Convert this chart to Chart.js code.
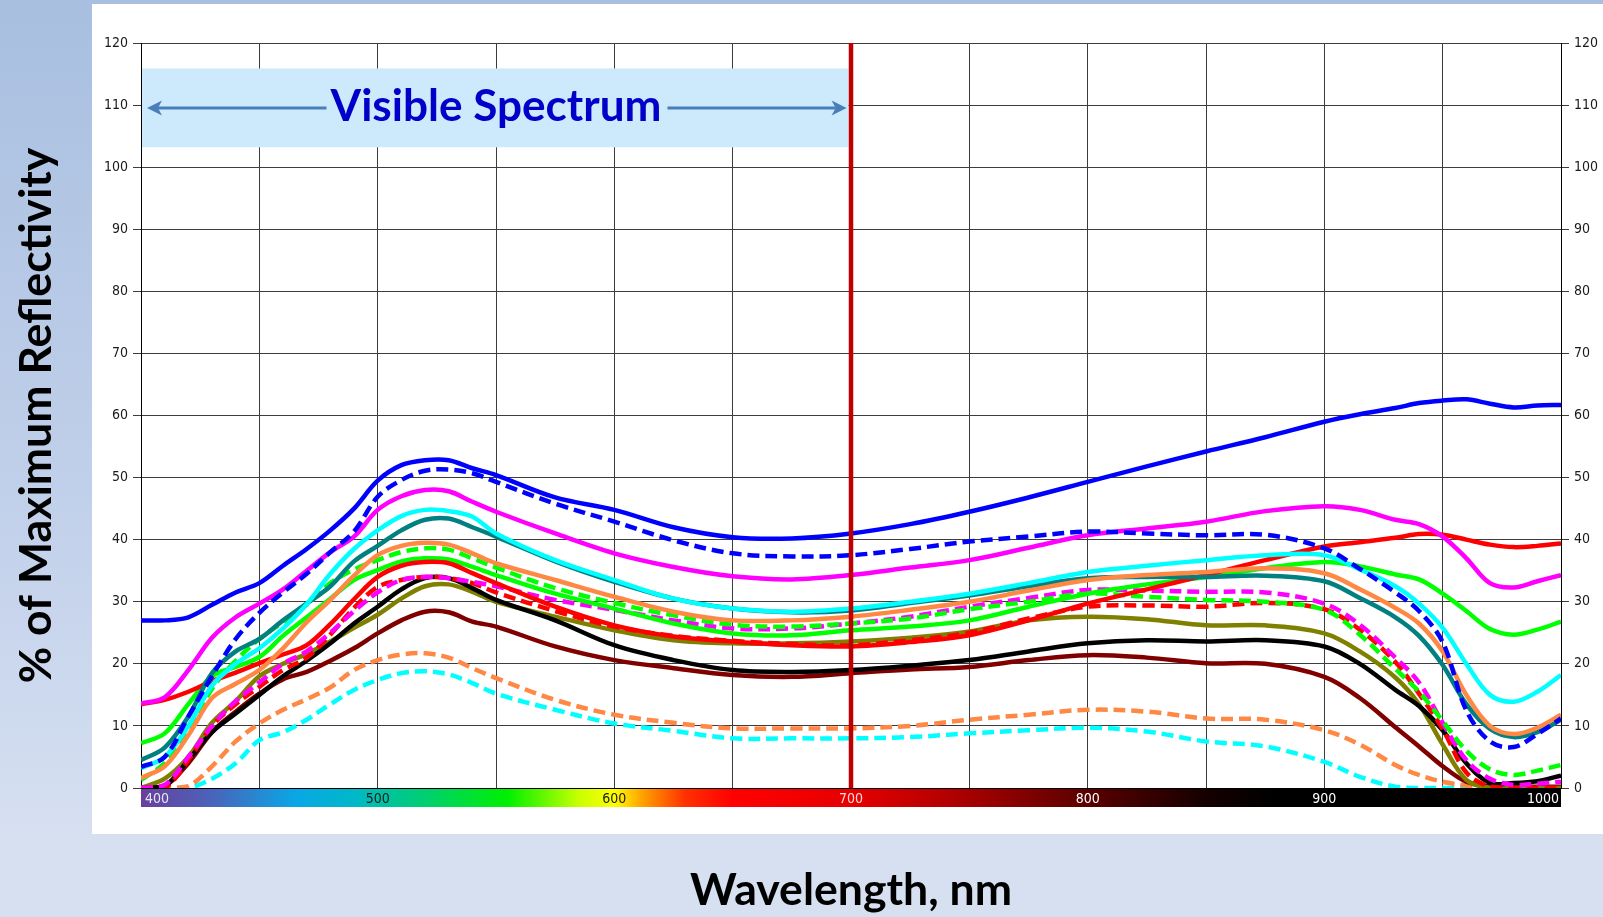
<!DOCTYPE html>
<html>
<head>
<meta charset="utf-8">
<title>Reflectivity vs wavelength</title>
<script src="https://cdn.jsdelivr.net/npm/chart.js@4.4.1/dist/chart.umd.min.js"></script>
<style>
  html, body { margin: 0; padding: 0; }
  body {
    width: 1603px; height: 917px; overflow: hidden; position: relative;
    background: linear-gradient(to bottom, #a8bfe0 0%, #c4d2eb 60%, #d6e0f1 92%, #d6e0f1 100%);
  }
  #panel { position: absolute; left: 92px; top: 4px; width: 1511px; height: 830px; background: #fff; }
  #wrap { position: absolute; left: 0; top: 0; width: 1603px; height: 917px; }
</style>
</head>
<body>
<div id="panel"></div>
<div id="wrap"><canvas id="chartCanvas" width="1603" height="917"></canvas></div>
<script>
/* ===========================
   DATA
=========================== */
const wavelengths = [400, 410, 420, 430, 440, 450, 460, 470, 480, 490, 500, 510, 520, 530, 540, 550,
  575, 600, 625, 650, 675, 700, 725, 750, 775, 800, 825, 850, 875, 900,
  915, 930, 940, 950, 960, 970, 980, 990, 1000];

const blueSolid = [27, 27, 27.5, 29.5, 31.5, 33, 35.8, 38.5, 41.5, 45, 49.5, 52, 52.8, 52.8, 51.5, 50.4,
  46.8, 44.8, 42, 40.4, 40.2, 41, 42.5, 44.5, 46.8, 49.3, 51.8, 54.2, 56.5, 59,
  60.2, 61.2, 62, 62.4, 62.6, 61.9, 61.3, 61.6, 61.7];
const blueDashed = [3.4, 5, 11.5, 18, 24, 28.2, 31.5, 34.5, 38, 41.3, 46.9, 49.6, 51.1, 51.3, 50.7, 49.3,
  45.8, 42.9, 39.9, 37.8, 37.3, 37.5, 38.5, 39.7, 40.5, 41.3, 41, 40.7, 40.8, 38.6,
  35.3, 31.5, 28.5, 23.5, 12.5, 7.5, 6.6, 8.7, 11.2];
const magentaSolid = [13.6, 14.6, 19, 24.2, 27.5, 29.7, 32, 35, 38, 40.5, 44.8, 47, 48, 47.8, 46.1, 44.5,
  41, 37.8, 35.6, 34.1, 33.6, 34.3, 35.5, 36.7, 38.7, 40.7, 41.8, 42.9, 44.6, 45.4,
  44.8, 43.2, 42.5, 40.5, 37, 33, 32.3, 33.3, 34.3];
const cyanSolid = [3.2, 5, 10, 16.5, 20, 22.5, 25.7, 29.6, 34.5, 38.5, 41.5, 43.8, 44.8, 44.6, 43.7, 41,
  36.7, 33.5, 30.5, 28.9, 28.4, 28.9, 30, 31.3, 33, 34.8, 35.8, 36.7, 37.5, 37.5,
  35.2, 32.5, 29.7, 25.8, 20, 15, 13.9, 15.5, 18.2];
const tealSolid = [4.5, 6.5, 11.5, 18.5, 22, 24, 27, 29.7, 32.5, 36.5, 39, 41.5, 43.2, 43.4, 42, 40.5,
  36.5, 33.2, 30.5, 28.9, 28.3, 28.6, 29.8, 31, 32.5, 33.8, 34, 34, 34.2, 33.3,
  30.6, 27.5, 24.5, 19.8, 13.5, 9.5, 8.2, 9, 11];
const orangeSolid = [1.6, 3.5, 8.5, 14.5, 16.8, 19, 22.5, 26.7, 30.3, 34.2, 37.5, 39, 39.5, 39.2, 37.8, 36.2,
  33.5, 30.8, 28.4, 27, 27, 27.6, 28.7, 30, 31.8, 33.5, 34.3, 34.8, 35.4, 34.6,
  32, 29, 26.5, 22, 15, 10, 8.7, 9.7, 11.8];
const greenSolid = [7.2, 8.8, 13.5, 18, 19.5, 21.1, 24.5, 27.5, 30.5, 33.5, 35.1, 36.5, 37, 36.8, 35.6, 34.3,
  31.3, 28.9, 26.5, 24.9, 24.6, 25.4, 26, 27, 29.2, 31.3, 32.8, 34, 35.4, 36.4,
  35.7, 34.4, 33.6, 31.3, 28.5, 25.6, 24.7, 25.5, 26.8];
const greenDashed = [1.3, 4, 9, 16, 20.5, 24, 26.7, 29.5, 33, 35.2, 36.7, 38, 38.6, 38.4, 37, 35.5,
  32.2, 29.8, 27.8, 26.3, 26, 26.5, 27.3, 28.8, 30, 31.3, 30.8, 30.3, 30, 28.7,
  24.7, 19.2, 15.5, 10.8, 6, 3, 2.1, 2.8, 3.7];
const redSolid = [13.5, 14.2, 15.5, 17.2, 18.6, 20.1, 21.5, 23, 26.4, 30.4, 34, 35.8, 36.4, 36.2, 34.6, 33,
  29.2, 26.2, 24.4, 23.6, 23, 22.8, 23.5, 24.6, 27, 29.7, 32, 34.3, 36.7, 38.9,
  39.6, 40.3, 40.9, 40.8, 40, 39.2, 38.8, 39, 39.4];
const redDashed = [0, 0, 4.5, 10, 13.5, 16.3, 19, 21, 24.7, 29, 32.4, 33.5, 34, 33.8, 33, 31.5,
  28.5, 26, 24.5, 23.7, 23.2, 23, 23.8, 25, 27.3, 29.2, 29.4, 29.2, 29.8, 28.8,
  25.5, 20.3, 15.2, 9.5, 2.5, 0.2, 0, 0, 0];
const magentaDashed = [0, 0.5, 5, 10, 14, 17, 20, 22, 25, 28.5, 31.5, 33.5, 34, 33.8, 33.2, 32.5,
  30.3, 28.7, 27, 25.7, 25.7, 26.5, 27.6, 29.2, 30.6, 31.9, 31.8, 31.6, 31.5, 29.7,
  26.3, 21, 17, 10.5, 4.5, 1.5, 0.5, 0.7, 1];
const blackSolid = [0, 0.3, 4.5, 9, 12, 15, 18, 20.5, 23.3, 26.5, 29.2, 32, 33.8, 33.8, 32.2, 30.3,
  27, 23, 20.6, 19, 18.7, 19, 19.7, 20.6, 22, 23.3, 23.8, 23.6, 23.8, 22.8,
  20, 15.8, 13.2, 9.3, 4, 0.8, 0.8, 1.1, 2];
const oliveSolid = [0, 1.5, 5, 10.5, 14, 18, 20, 21.6, 23.6, 25.8, 27.9, 30.5, 32.5, 32.8, 31.6, 30,
  27.6, 25.4, 23.8, 23.3, 23.3, 23.6, 24.2, 25.2, 27, 27.6, 27.2, 26.2, 26.2, 24.9,
  22, 17.8, 13.5, 7, 1.3, 0, 0, 0, 0];
const darkRedSolid = [0, 0.3, 4, 9, 12.3, 15.2, 17.5, 18.7, 20.5, 22.5, 24.9, 27, 28.4, 28.3, 26.8, 26,
  22.8, 20.6, 19.3, 18.2, 17.9, 18.5, 19.1, 19.5, 20.6, 21.4, 21, 20.1, 20, 17.9,
  14.5, 9.8, 6.7, 3.5, 1, 0.3, 0.2, 0.2, 0.2];
const orangeDashed = [0, 0, 0.3, 3.5, 7.5, 10.4, 12.6, 14.3, 16.2, 19, 20.6, 21.5, 21.7, 21, 19.3, 17.7,
  14.2, 11.8, 10.5, 9.6, 9.6, 9.6, 10, 11, 11.8, 12.6, 12.3, 11.2, 11, 9.3,
  7, 3.7, 2.1, 1, 0.4, 0, 0, 0, 0];
const cyanDashed = [0, 0, 0, 1.5, 4, 7.7, 9, 11, 13.5, 15.8, 17.4, 18.5, 18.8, 18.3, 16.9, 15.2,
  12.6, 10.4, 9.2, 8, 8, 8, 8.2, 8.8, 9.3, 9.7, 9.1, 7.5, 6.7, 4.2,
  1.8, 0.2, 0, 0, 0, 0, 0, 0, 0];

const yTicks = [0, 10, 20, 30, 40, 50, 60, 70, 80, 90, 100, 110, 120];
const xTickLabels = [400, 500, 600, 700, 800, 900, 1000];

// annotations, in data units
const visibleBand = [400, 699];      // nm
const visibleBoxY = [103.2, 115.9];  // % units
const visibleLabelAt = [550, 110];
const cutoffWavelength = 700;

/* ===========================
   STYLES
=========================== */
const tickFont = "'DejaVu Sans Condensed', 'DejaVu Sans', sans-serif";
const titleFamily = "Lato, 'Open Sans', sans-serif";
const gridColor = "#3c3c3c";

// spectrum colour bar under the x axis
const spectrumStops = [
  [400, "#6a3f9c"], [430, "#4a63bb"], [465, "#0aa6e6"], [490, "#00b8c8"],
  [520, "#00cf70"], [555, "#00f000"], [585, "#c8ff00"], [600, "#ffff00"],
  [612, "#ffa000"], [630, "#ff3000"], [650, "#ff0000"], [700, "#e60000"],
  [740, "#b40000"], [800, "#5a0000"], [850, "#150000"], [880, "#000000"], [1000, "#000000"]
];
const bandLabelColors = ["#e6e6f0", "#1a1a1a", "#1a1a1a", "#ffd6d6", "#ffffff", "#ffffff", "#ffffff"];

// 16 series: first listed is drawn on top
const series = [
  { data: blueSolid,     color: "#0000ff", dashed: false },
  { data: blueDashed,    color: "#0000ff", dashed: true },
  { data: magentaSolid,  color: "#ff00ff", dashed: false },
  { data: orangeSolid,   color: "#ff8844", dashed: false },
  { data: cyanSolid,     color: "#00ffff", dashed: false },
  { data: tealSolid,     color: "#008080", dashed: false },
  { data: redSolid,      color: "#ff0000", dashed: false },
  { data: greenSolid,    color: "#00ff00", dashed: false },
  { data: greenDashed,   color: "#00ff00", dashed: true },
  { data: magentaDashed, color: "#ff00ff", dashed: true },
  { data: redDashed,     color: "#ff0000", dashed: true },
  { data: blackSolid,    color: "#000000", dashed: false },
  { data: oliveSolid,    color: "#808000", dashed: false },
  { data: darkRedSolid,  color: "#800000", dashed: false },
  { data: orangeDashed,  color: "#ff8844", dashed: true },
  { data: cyanDashed,    color: "#00ffff", dashed: true }
];

// fit a bold title font so the text spans a target width
function fitFontSize(text, family, targetWidth) {
  const c = document.createElement("canvas").getContext("2d");
  c.font = "bold 100px " + family;
  return Math.round(1000 * targetWidth / c.measureText(text).width) / 10;
}
const yTitleSize = fitFontSize("% of Maximum Reflectivity", titleFamily, 536);
const xTitleSize = fitFontSize("Wavelength, nm", titleFamily, 322);
const bandTitleSize = fitFontSize("Visible Spectrum", titleFamily, 331);

function drawArrow(ctx, fromX, toX, y) {
  const dir = Math.sign(toX - fromX);
  const head = 15, half = 7.5, notch = 4;
  ctx.beginPath();
  ctx.moveTo(fromX, y);
  ctx.lineTo(toX - dir * (head - notch), y);
  ctx.stroke();
  ctx.beginPath();
  ctx.moveTo(toX, y);
  ctx.lineTo(toX - dir * head, y - half);
  ctx.lineTo(toX - dir * (head - notch), y);
  ctx.lineTo(toX - dir * head, y + half);
  ctx.closePath();
  ctx.fill();
}

/* ===========================
   OVERLAY PLUGIN
=========================== */
const overlayPlugin = {
  id: "overlay",
  beforeDatasetsDraw(chart) {
    const { ctx, scales: { x, y } } = chart;
    const left = x.getPixelForValue(visibleBand[0]);
    const right = x.getPixelForValue(visibleBand[1]);
    const top = y.getPixelForValue(visibleBoxY[1]);
    const bottom = y.getPixelForValue(visibleBoxY[0]);
    ctx.save();
    ctx.fillStyle = "#cceafb";
    ctx.fillRect(left + 1, top, right - left - 1, bottom - top);

    const cx = x.getPixelForValue(visibleLabelAt[0]);
    const cy = y.getPixelForValue(visibleLabelAt[1]);
    ctx.font = "bold " + bandTitleSize + "px " + titleFamily;
    ctx.fillStyle = "#0000c8";
    ctx.textAlign = "center";
    ctx.textBaseline = "middle";
    ctx.fillText("Visible Spectrum", cx, cy + 2);
    const tw = ctx.measureText("Visible Spectrum").width;

    ctx.strokeStyle = "#4a7ebb";
    ctx.fillStyle = "#4a7ebb";
    ctx.lineWidth = 3;
    drawArrow(ctx, cx - tw / 2 - 4, left + 6, cy + 3);
    drawArrow(ctx, cx + tw / 2 + 6, right - 2, cy + 3);
    ctx.restore();
  },
  afterDatasetsDraw(chart) {
    const { ctx, chartArea, scales: { x } } = chart;
    const px = x.getPixelForValue(cutoffWavelength);
    ctx.save();
    ctx.strokeStyle = "#c00000";
    ctx.lineWidth = 4.5;
    ctx.beginPath();
    ctx.moveTo(px, chartArea.top);
    ctx.lineTo(px, chartArea.bottom);
    ctx.stroke();
    ctx.restore();
  },
  afterDraw(chart) {
    const { ctx, chartArea, scales: { x } } = chart;
    const top = chartArea.bottom + 1, h = 18;
    const w = chartArea.right - chartArea.left;
    const grad = ctx.createLinearGradient(chartArea.left, 0, chartArea.right, 0);
    spectrumStops.forEach(([wl, c]) => {
      grad.addColorStop((x.getPixelForValue(wl) - chartArea.left) / w, c);
    });
    ctx.save();
    ctx.fillStyle = grad;
    ctx.fillRect(chartArea.left, top, w, h);
    ctx.font = "14px " + tickFont;
    ctx.textBaseline = "middle";
    xTickLabels.forEach((wl, i) => {
      const px = x.getPixelForValue(wl);
      const last = i === xTickLabels.length - 1;
      ctx.textAlign = i === 0 ? "left" : (last ? "right" : "center");
      ctx.fillStyle = bandLabelColors[i];
      ctx.fillText(String(wl), i === 0 ? px + 4 : (last ? px - 2 : px), top + h / 2 + 1);
    });
    ctx.restore();
  }
};

/* ===========================
   CHART
=========================== */
const ctx = document.getElementById("chartCanvas").getContext("2d");
const yTickOptions = {
  stepSize: 10,
  color: "#1a1a1a",
  padding: 5,
  font: { family: tickFont, size: 14 },
  callback: v => (yTicks.includes(v) ? String(v) : "")
};

const chart = new Chart(ctx, {
  type: "line",
  data: {
    datasets: series.map(s => ({
      data: wavelengths.map((w, i) => ({ x: w, y: s.data[i] })),
      borderColor: s.color,
      borderWidth: 4.5,
      borderDash: s.dashed ? [12, 6] : [],
      borderCapStyle: "butt",
      pointRadius: 0,
      fill: false,
      tension: 0.35
    }))
  },
  options: {
    responsive: false,
    animation: false,
    events: [],
    layout: { padding: { left: 0, right: 0, top: 43, bottom: 0 } },
    plugins: { legend: { display: false }, tooltip: { enabled: false } },
    scales: {
      x: {
        type: "linear",
        min: 400, max: 1000,
        ticks: { display: false, stepSize: 50 },
        grid: { color: gridColor, lineWidth: 1, drawTicks: false },
        border: { color: "#000", width: 1 },
        title: {
          display: true,
          text: "Wavelength, nm",
          color: "#000",
          font: { family: titleFamily, weight: "bold", size: xTitleSize, lineHeight: 1 },
          padding: { top: 0, bottom: 26 - xTitleSize / 2 }
        },
        afterFit(s) { s.height = 129; }
      },
      y: {
        position: "left",
        min: 0, max: 120,
        ticks: yTickOptions,
        grid: { color: gridColor, lineWidth: 1, tickLength: 8 },
        border: { color: "#000", width: 1 },
        title: {
          display: true,
          text: "% of Maximum Reflectivity",
          color: "#000",
          font: { family: titleFamily, weight: "bold", size: yTitleSize, lineHeight: 1 },
          padding: { top: 37 - yTitleSize / 2, bottom: 0 }
        },
        afterFit(s) { s.width = 141; }
      },
      y2: {
        position: "right",
        min: 0, max: 120,
        ticks: yTickOptions,
        grid: { color: gridColor, lineWidth: 1, tickLength: 8, drawOnChartArea: false },
        border: { color: "#000", width: 1 },
        afterFit(s) { s.width = 42; }
      }
    }
  },
  plugins: [overlayPlugin]
});
</script>
</body>
</html>
